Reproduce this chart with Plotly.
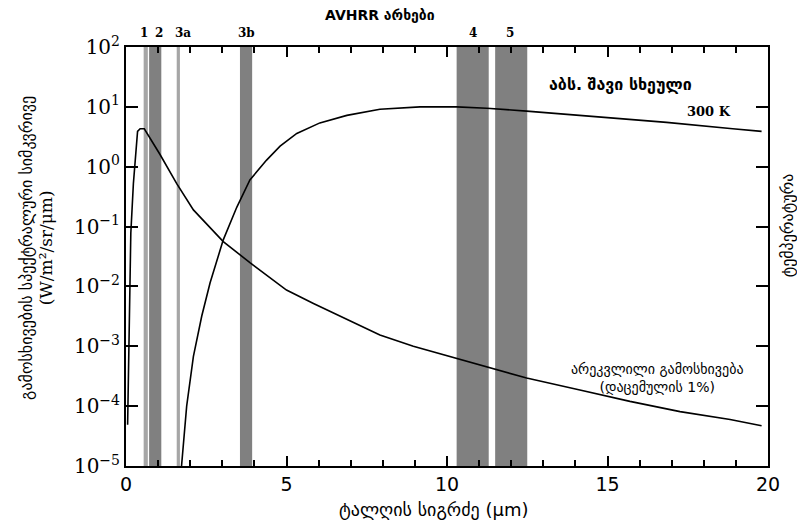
import plotly.graph_objects as go

# Reflected radiation (1% of incident)
refl_x = [0.05, 0.07, 0.12, 0.15, 0.23, 0.36, 0.44, 0.57, 1.06, 1.58, 2.10, 3.03, 3.86, 5.0,
          5.84, 6.88, 7.91, 8.95, 10.30, 11.24, 12.48, 14.14, 15.70, 17.26, 18.82, 19.8]
refl_y = [4.9e-5, 2.1e-4, 3.5e-3, 7.8e-2, 0.52, 3.9, 4.3, 4.3, 1.6, 0.52, 0.19, 0.056, 0.025, 8.7e-3,
          5.2e-3, 2.8e-3, 1.55e-3, 1.0e-3, 6.3e-4, 4.5e-4, 2.95e-4, 1.86e-4, 1.2e-4, 8.1e-5, 6.0e-5, 4.7e-5]

# 300 K black body
bb_x = [1.70, 1.73, 1.89, 2.10, 2.36, 2.62, 3.03, 3.45, 3.86, 4.38, 4.80, 5.32, 6.04, 6.88, 7.91,
        9.16, 10.30, 11.24, 12.48, 14.77, 16.84, 18.9, 19.8]
bb_y = [6e-6, 1.0e-5, 1.0e-4, 6.8e-4, 3.2e-3, 0.0115, 0.060, 0.21, 0.60, 1.29, 2.2, 3.6, 5.4, 7.2, 9.1,
        10.0, 10.0, 9.5, 8.5, 6.8, 5.5, 4.3, 3.9]

# AVHRR channels
ch_names = ["1", "2", "3a", "3b", "4", "5"]
ch_start = [0.55, 0.72, 1.58, 3.55, 10.3, 11.5]
ch_end = [0.68, 1.10, 1.68, 3.93, 11.3, 12.5]
ch_label_x = [0.55, 1.03, 1.76, 3.74, 10.8, 11.95]
ch_colors = ["#a6a6a6", "#808080", "#a6a6a6", "#808080", "#808080", "#808080"]

y_tickvals = [1e-5, 1e-4, 1e-3, 1e-2, 1e-1, 1e0, 1e1, 1e2]
y_ticktext = ["10<sup>−5</sup>", "10<sup>−4</sup>", "10<sup>−3</sup>", "10<sup>−2</sup>",
              "10<sup>−1</sup>", "10<sup>0</sup>", "10<sup>1</sup>", "10<sup>2</sup>"]
x_tickvals = [0, 5, 10, 15, 20]

GEO = "DejaVu Sans"

fig = go.Figure()
fig.add_trace(go.Scatter(x=refl_x, y=refl_y, mode="lines",
                         line=dict(color="black", width=1.6), showlegend=False))
fig.add_trace(go.Scatter(x=bb_x, y=bb_y, mode="lines",
                         line=dict(color="black", width=1.6), showlegend=False))

shapes = []
annotations = []
for name, x0, x1, lx, c in zip(ch_names, ch_start, ch_end, ch_label_x, ch_colors):
    shapes.append(dict(type="rect", xref="x", yref="paper", x0=x0, x1=x1, y0=0, y1=1,
                       fillcolor=c, line=dict(width=0), layer="below"))
    annotations.append(dict(x=lx, y=1, xref="x", yref="paper", yshift=14, yanchor="middle",
                            text="<b>%s</b>" % name, showarrow=False,
                            font=dict(family="DejaVu Serif", size=12, color="black")))

annotations += [
    dict(x=7.9, y=1, xref="x", yref="paper", yshift=32, yanchor="middle",
         text="<b>AVHRR არხები</b>", showarrow=False,
         font=dict(family=GEO, size=14, color="black")),
    dict(x=15.4, y=1.38, xref="x", yref="y", text="<b>აბს. შავი სხეული</b>", showarrow=False,
         font=dict(family=GEO, size=16, color="black")),
    dict(x=18.15, y=0.92, xref="x", yref="y", text="<b>300 K</b>", showarrow=False,
         font=dict(family="DejaVu Serif", size=13, color="black")),
    dict(x=16.55, y=-3.53, xref="x", yref="y",
         text="არეკვლილი გამოსხივება<br>(დაცემულის 1%)", showarrow=False,
         font=dict(family=GEO, size=14, color="black")),
    dict(x=-0.139, y=0.52, xref="paper", yref="paper", xanchor="center", yanchor="middle",
         textangle=-90,
         text="გამოსხივების სპექტრალური სიმკვრივე<br><span style='font-family:DejaVu Serif;font-size:17px'>(W/m²/sr/μm)</span>",
         showarrow=False, font=dict(family=GEO, size=16, color="black")),
    dict(x=1.03, y=0.575, xref="paper", yref="paper", xanchor="center", yanchor="middle",
         textangle=-90, text="ტემპერატურა", showarrow=False,
         font=dict(family=GEO, size=16, color="black")),
    dict(x=0.479, y=-0.105, xref="paper", yref="paper", xanchor="center", yanchor="middle",
         text="ტალღის სიგრძე (μm)", showarrow=False,
         font=dict(family=GEO, size=18, color="black")),
]

fig.update_layout(
    width=797, height=517,
    margin=dict(l=118, r=37, t=39, b=59),
    paper_bgcolor="white", plot_bgcolor="white",
    shapes=shapes, annotations=annotations,
    xaxis=dict(range=[0, 20], tickvals=x_tickvals, ticks="inside", ticklen=10, tickwidth=1.5,
               minor=dict(dtick=1, ticks="inside", ticklen=6, tickwidth=1.5, tickcolor="black"),
               showline=True, linecolor="black", linewidth=2, mirror="ticks", showgrid=False,
               zeroline=False, tickcolor="black", automargin=False,
               tickfont=dict(family="DejaVu Sans", size=19, color="black")),
    yaxis=dict(type="log", range=[-5, 2], tickvals=y_tickvals, ticktext=y_ticktext,
               ticks="inside", ticklen=12, tickwidth=1.5, tickcolor="black", automargin=False,
               showline=True, linecolor="black", linewidth=2, mirror="ticks", showgrid=False,
               zeroline=False, tickfont=dict(family="DejaVu Serif", size=20, color="black")),
)

fig.write_html("out.html")
